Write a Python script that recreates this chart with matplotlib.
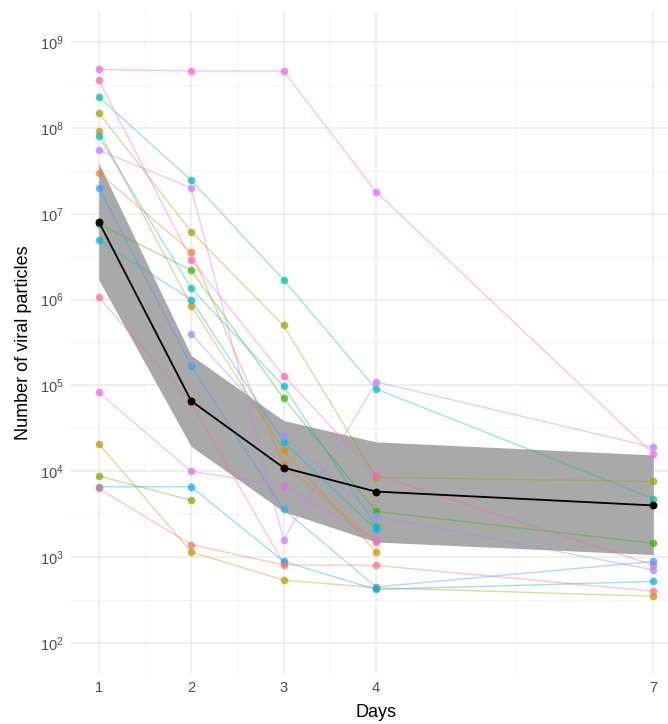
import numpy as np
import matplotlib
matplotlib.use("Agg")
import matplotlib.pyplot as plt
from matplotlib.ticker import FixedLocator, FuncFormatter

plt.rcParams['font.family'] = ['Liberation Sans', 'DejaVu Sans']
plt.rcParams['mathtext.fontset'] = 'custom'
plt.rcParams['mathtext.rm'] = 'Liberation Sans'
plt.rcParams['mathtext.it'] = 'Liberation Sans'

nan = np.nan
days = [1, 2, 3, 4, 7]

subjects = {
    "S01": [4.8e8, 4.6e8, 4.6e8, 1.8e7, 1.6e4],
    "S02": [5.5e7, 2.0e7, 1.6e3, 1.1e5, 1.9e4],
    "S03": [2.3e8, 2.45e7, 1.7e6, 9.1e4, 4.8e3],
    "S04": [1.5e8, 6.2e6, 5.0e5, 8.5e3, 7.6e3],
    "S05": [3.6e8, 2.9e6, 1.3e5, 9.1e3, 8.1e2],
    "S06": [3.0e7, 3.6e6, 1.2e4, 1.5e3, nan],
    "S07": [9.3e7, 8.5e5, 1.75e4, 1.15e3, nan],
    "S08": [8.0e7, 1.35e6, 9.8e4, 2.3e3, nan],
    "S09": [7.6e6, 2.2e6, 7.1e4, 3.4e3, 1.45e3],
    "S10": [4.9e6, 1.0e6, 2.2e4, 2.1e3, nan],
    "S11": [2.0e7, 1.7e5, 3.6e3, 4.5e2, 8.9e2],
    "S12": [nan, 4.0e5, 2.6e4, 3.0e3, 7.1e2],
    "S13": [1.07e6, 6.2e4, 8.5e2, nan, nan],
    "S14": [8.3e4, 1.0e4, 6.8e3, 1.6e3, nan],
    "S15": [2.1e4, 1.15e3, 5.4e2, 4.4e2, 3.5e2],
    "S16": [8.8e3, 4.6e3, nan, nan, nan],
    "S17": [6.6e3, 6.6e3, 8.9e2, 4.2e2, 5.2e2],
    "S18": [6.3e3, 1.4e3, 8.1e2, 8.0e2, 4.0e2],
}
subject_colors = {
    "S01": "#F564E3", "S02": "#C77CFF", "S03": "#00C1A3", "S04": "#A3A500",
    "S05": "#FF62BC", "S06": "#EA8331", "S07": "#D89000", "S08": "#00BFC4",
    "S09": "#39B600", "S10": "#00BAE0", "S11": "#35A2FF", "S12": "#9590FF",
    "S13": "#FF6C91", "S14": "#E76BF3", "S15": "#C09B00", "S16": "#7CAE00",
    "S17": "#00B0F6", "S18": "#F8766D",
}

mean_vals = [8.1e6, 6.6e4, 1.1e4, 5.8e3, 4.0e3]
lower_vals = [1.7e6, 1.95e4, 3.4e3, 1.5e3, 1.07e3]
upper_vals = [3.9e7, 2.24e5, 3.9e4, 2.2e4, 1.55e4]

y_breaks = [1e2, 1e3, 1e4, 1e5, 1e6, 1e7, 1e8, 1e9]

W, H = 668, 724
fig = plt.figure(figsize=(W / 100, H / 100), dpi=100)
fig.patch.set_facecolor("white")
ax = fig.add_axes([71 / W, (H - 673) / H, 610 / W, 661 / H])
ax.set_facecolor("white")

ax.set_yscale("log")
ax.set_xlim(0.7, 7.3)
ax.set_ylim(10 ** 1.65, 10 ** 9.35)

# grid
ax.xaxis.set_major_locator(FixedLocator(days))
ax.xaxis.set_minor_locator(FixedLocator([1.5, 2.5, 3.5, 5.5]))
ax.yaxis.set_major_locator(FixedLocator(y_breaks))
ax.yaxis.set_minor_locator(FixedLocator([10 ** (k + 0.5) for k in range(1, 10)]))
ax.grid(which="major", color="#EBEBEB", linewidth=1.1, zorder=0)
ax.grid(which="minor", color="#F2F2F2", linewidth=0.6, zorder=0)
ax.set_axisbelow(True)
for s in ax.spines.values():
    s.set_visible(False)
ax.tick_params(which="both", length=0)
ax.tick_params(axis="x", pad=6, labelsize=10.5, labelcolor="#4D4D4D")
ax.tick_params(axis="y", pad=5, labelsize=10.5, labelcolor="#4D4D4D")
ax.yaxis.set_major_formatter(FuncFormatter(lambda v, p: r"$10^{%d}$" % round(np.log10(v))))
ax.xaxis.set_major_formatter(FuncFormatter(lambda v, p: "%d" % v))

# ribbon
ax.fill_between(days, lower_vals, upper_vals, color="#A9A9A9", linewidth=0, zorder=1)

# individual subjects
for name, vals in subjects.items():
    arr = np.array(vals, dtype=float)
    x = np.array(days, dtype=float)
    m = ~np.isnan(arr)
    col = subject_colors[name]
    ax.plot(x[m], arr[m], color=col, alpha=0.4, linewidth=1.0, zorder=2)
    ax.scatter(x[m], arr[m], color=col, alpha=0.75, s=30, linewidths=0, zorder=3)

# mean
ax.plot(days, mean_vals, color="black", linewidth=1.3, zorder=4)
ax.scatter(days, mean_vals, color="black", s=32, linewidths=0, zorder=5)

ax.set_xlabel("Days", fontsize=13, color="black", labelpad=2)
ax.set_ylabel("Number of viral particles", fontsize=13, color="black", labelpad=6)
ax.xaxis.set_label_coords((376 - 71) / 610, -0.047)

fig.savefig("out.png", dpi=100, facecolor="white")
